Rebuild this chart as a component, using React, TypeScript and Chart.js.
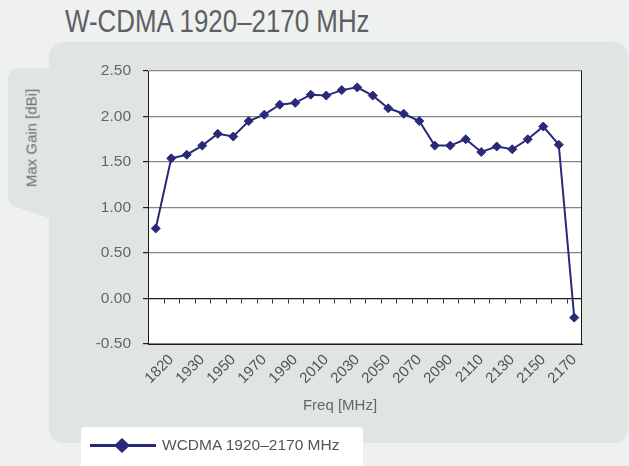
import React, { useEffect, useRef } from "react";
import { Chart, registerables } from "chart.js";

Chart.register(...registerables);

// Category labels (every other one is shown on the axis)
const frequencies = [
  "1810", "1820", "1920", "1930", "1940", "1950", "1960", "1970", "1980", "1990",
  "2000", "2010", "2020", "2030", "2040", "2050", "2060", "2070", "2080", "2090",
  "2100", "2110", "2120", "2130", "2140", "2150", "2160", "2170",
];

// Max gain [dBi]
const gainValues = [
  0.77, 1.54, 1.58, 1.68, 1.81, 1.78, 1.95, 2.02, 2.13, 2.15,
  2.24, 2.23, 2.29, 2.32, 2.23, 2.09, 2.03, 1.95, 1.68, 1.68,
  1.75, 1.61, 1.67, 1.64, 1.75, 1.89, 1.69, -0.21,
];

const yMin = -0.5;
const yMax = 2.5;
const yStep = 0.5;

const seriesName = "WCDMA 1920–2170 MHz";
const chartTitle = "W-CDMA 1920–2170 MHz";
const xTitle = "Freq [MHz]";
const yTitle = "Max Gain [dBi]";

const lineColor = "#29297a";
const axisColor = "#1c1c1c";
const gridColor = "#858585";
const font = "'Liberation Sans', Arial, sans-serif";

const decorPlugin = {
  id: "decor",
  beforeDraw(chart: any) {
    const { ctx, chartArea: a } = chart;
    ctx.save();
    ctx.fillStyle = "#ffffff";
    ctx.fillRect(a.left, a.top, a.right - a.left, a.bottom - a.top);
    ctx.restore();
  },
  afterDraw(chart: any) {
    const { ctx, chartArea: a } = chart;
    const xs = chart.scales.x;
    const ys = chart.scales.y;
    ctx.save();
    ctx.strokeStyle = axisColor;
    ctx.lineWidth = 1;
    // right border
    ctx.beginPath();
    ctx.moveTo(Math.round(a.right) - 0.5, a.top);
    ctx.lineTo(Math.round(a.right) - 0.5, a.bottom);
    ctx.stroke();
    // tick marks on the zero line, between categories
    const y0 = Math.round(ys.getPixelForValue(0)) + 0.5;
    ctx.strokeStyle = "#333333";
    for (let i = 1; i < frequencies.length; i++) {
      const x = Math.round((xs.getPixelForValue(i - 1) + xs.getPixelForValue(i)) / 2) + 0.5;
      ctx.beginPath();
      ctx.moveTo(x, y0);
      ctx.lineTo(x, y0 + 4);
      ctx.stroke();
    }
    ctx.restore();
  },
};

export default function App() {
  const canvasRef = useRef<HTMLCanvasElement | null>(null);

  useEffect(() => {
    const canvas = canvasRef.current;
    if (!canvas) return;
    const chart = new Chart(canvas, {
      type: "line",
      data: {
        labels: frequencies,
        datasets: [
          {
            label: seriesName,
            data: gainValues,
            borderColor: lineColor,
            backgroundColor: lineColor,
            borderWidth: 2,
            pointStyle: "rectRot",
            pointRadius: 4.5,
            pointBackgroundColor: lineColor,
            pointBorderColor: lineColor,
            pointBorderWidth: 1,
            tension: 0,
            fill: false,
          },
        ],
      },
      options: {
        animation: false,
        responsive: false,
        maintainAspectRatio: false,
        layout: { padding: { left: 8, top: 71, right: 47, bottom: 0 } },
        plugins: {
          legend: { display: false },
          tooltip: { enabled: false },
        },
        scales: {
          x: {
            type: "category",
            offset: true,
            grid: { display: false, drawTicks: false },
            border: { display: true, color: axisColor, width: 1 },
            ticks: {
              autoSkip: false,
              maxRotation: 45,
              minRotation: 45,
              padding: 7,
              color: "#555555",
              font: { family: font, size: 15 },
              callback: (_v: any, i: number) => (i % 2 === 1 ? frequencies[i] : ""),
            },
            afterFit: (s: any) => {
              s.height = 122;
            },
          },
          y: {
            min: yMin,
            max: yMax,
            ticks: {
              stepSize: yStep,
              padding: 12,
              color: "#666666",
              font: { family: font, size: 15.5 },
              callback: (v: any) => Number(v).toFixed(2),
            },
            grid: {
              color: (c: any) => (c.tick && c.tick.value === 0 ? axisColor : gridColor),
              lineWidth: 1.2,
              tickColor: axisColor,
              tickLength: 5,
              drawTicks: true,
            },
            border: { display: true, color: axisColor, width: 1 },
            afterFit: (s: any) => {
              s.width = 140;
            },
          },
        },
      },
      plugins: [decorPlugin],
    } as any);
    return () => chart.destroy();
  }, []);

  return (
    <div style={{ position: "fixed", left: 0, top: 0, width: 629, height: 466, overflow: "hidden", background: "#eff1f0" }}>
      <svg width={629} height={466} style={{ position: "absolute", left: 0, top: 0 }}>
        <rect x={49} y={42} width={579} height={401} rx={14} ry={14} fill="#e0e5e2" />
        <path d="M 55 68 L 20 68 Q 8 68 8 80 L 8 196 Q 8 204 16 207 L 55 220 Z" fill="#e0e5e2" />
      </svg>
      <div
        style={{
          position: "absolute",
          left: 65,
          top: 6,
          fontFamily: "'Liberation Sans Narrow', 'Liberation Sans', sans-serif",
          fontSize: 31,
          lineHeight: "31px",
          color: "#5d6062",
          whiteSpace: "nowrap",
          transform: "scaleX(0.835)",
          transformOrigin: "0 50%",
        }}
      >
        {chartTitle}
      </div>
      <canvas ref={canvasRef} width={629} height={466} style={{ position: "absolute", left: 0, top: 0 }} />
      <div
        style={{
          position: "absolute",
          left: 31,
          top: 138,
          transform: "translate(-50%, -50%) rotate(-90deg)",
          fontFamily: font,
          fontSize: 15,
          lineHeight: 1,
          color: "#6b6b6b",
          whiteSpace: "nowrap",
        }}
      >
        {yTitle}
      </div>
      <div
        style={{
          position: "absolute",
          left: 340,
          top: 404,
          transform: "translate(-50%, -50%)",
          fontFamily: font,
          fontSize: 15,
          lineHeight: 1,
          color: "#666666",
          whiteSpace: "nowrap",
        }}
      >
        {xTitle}
      </div>
      <div
        style={{
          position: "absolute",
          left: 81,
          top: 427,
          width: 282,
          height: 50,
          background: "#ffffff",
          borderRadius: 4,
        }}
      >
        <svg width={80} height={40} style={{ position: "absolute", left: 0, top: 0 }}>
          <line x1={9} y1={18.5} x2={75} y2={18.5} stroke={lineColor} strokeWidth={3} />
          <polygon points="41,11 49,18.5 41,26 33,18.5" fill={lineColor} />
        </svg>
        <div
          style={{
            position: "absolute",
            left: 81,
            top: 18,
            transform: "translateY(-50%)",
            fontFamily: font,
            fontSize: 15.5,
            lineHeight: 1,
            color: "#555555",
            whiteSpace: "nowrap",
          }}
        >
          {seriesName}
        </div>
      </div>
    </div>
  );
}
